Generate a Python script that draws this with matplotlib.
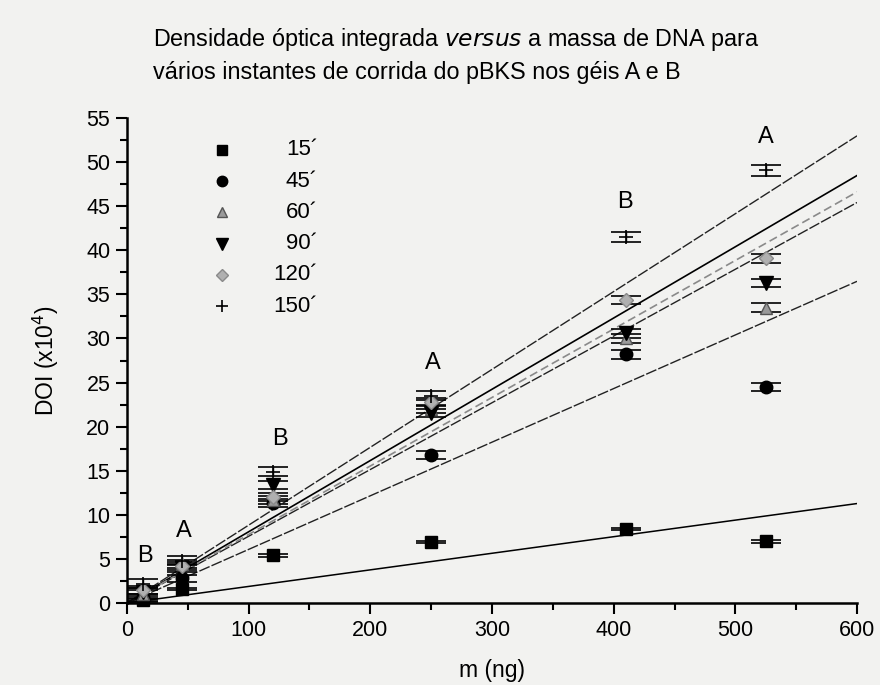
import matplotlib
matplotlib.use("Agg")
import matplotlib.pyplot as plt
import numpy as np
from matplotlib.ticker import MultipleLocator

plt.rcParams['font.family'] = ['Liberation Sans', 'DejaVu Sans']

# DNA mass loaded (ng)
mass = [13, 45, 120, 250, 410, 525]

# Integrated optical density (x10^4) for each run time
series_labels = ["15´", "45´", "60´", "90´", "120´", "150´"]
doi_15 = [0.3, 1.6, 5.4, 6.9, 8.4, 7.0]
doi_45 = [0.6, 2.8, 11.3, 16.8, 28.2, 24.5]
doi_60 = [1.0, 4.4, 11.7, 22.0, 30.0, 33.5]
doi_90 = [1.2, 4.0, 13.4, 21.6, 30.6, 36.3]
doi_120 = [1.5, 4.2, 12.0, 22.8, 34.4, 39.1]
doi_150 = [2.2, 4.8, 14.9, 23.5, 41.5, 49.1]

# Error of each measurement
err_15 = [0.15, 0.15, 0.15, 0.15, 0.15, 0.15]
err_45 = [0.4, 0.4, 0.45, 0.45, 0.5, 0.42]
err_60 = [0.45, 0.45, 0.45, 0.45, 0.5, 0.5]
err_90 = [0.45, 0.45, 0.45, 0.45, 0.5, 0.5]
err_120 = [0.45, 0.45, 0.45, 0.45, 0.47, 0.5]
err_150 = [0.5, 0.5, 0.5, 0.5, 0.53, 0.62]

# Linear fits (slope per ng, intercept)
fit_slopes = [0.0188, 0.0608, 0.0757, 0.0808, 0.0777, 0.0883]
fit_intercepts = [0.0, 0.0, 0.0, 0.0, 0.0, 0.0]

# Gel labels above each mass group
gel_labels = ["B", "A", "B", "A", "B", "A"]
gel_label_x = [15, 47, 126, 251, 409, 525]
gel_label_y = [5.3, 8.2, 18.6, 27.2, 45.5, 52.8]

all_doi = [doi_15, doi_45, doi_60, doi_90, doi_120, doi_150]
all_err = [err_15, err_45, err_60, err_90, err_120, err_150]

marker_styles = [
    dict(marker='s', ms=9, mfc='black', mec='black'),
    dict(marker='o', ms=9, mfc='black', mec='black'),
    dict(marker='^', ms=9, mfc='#9a9a9a', mec='#555555'),
    dict(marker='v', ms=9.5, mfc='black', mec='black'),
    dict(marker='D', ms=7, mfc='#b0b0b0', mec='#8a8a8a'),
    dict(marker='+', ms=10, mfc='black', mec='black', mew=1.2),
]
legend_ms = [7, 7.5, 7, 8, 6, 8]

line_styles = [
    dict(color='black', ls='-', lw=1.1),
    dict(color='#222222', ls=(0, (8, 1.5)), lw=1.0),
    dict(color='#222222', ls=(0, (8, 1.5)), lw=1.0),
    dict(color='black', ls='-', lw=1.2),
    dict(color='#8a8a8a', ls=(0, (5, 2.5)), lw=1.2),
    dict(color='#222222', ls=(0, (8, 1.5)), lw=1.0),
]

bg = '#f2f2f0'
fig = plt.figure(figsize=(8.8, 6.85), dpi=100, facecolor=bg)
ax = fig.add_axes([0.1443, 0.1197, 0.8296, 0.708], facecolor=bg)

xfit = np.array([0, 600])
for k in range(len(all_doi)):
    ax.plot(xfit, fit_slopes[k] * xfit + fit_intercepts[k], zorder=2, **line_styles[k])

for k in range(len(all_doi)):
    ax.errorbar(mass, all_doi[k], yerr=all_err[k], fmt='none', ecolor='black',
                elinewidth=1.0, capsize=11, capthick=1.2, zorder=3, clip_on=False)
    ax.plot(mass, all_doi[k], ls='none', zorder=4, clip_on=False, **marker_styles[k])

for lab, gx, gy in zip(gel_labels, gel_label_x, gel_label_y):
    ax.text(gx, gy, lab, ha='center', va='center', fontsize=17)

# Legend drawn as marker + right-aligned label rows
leg_y0 = 51.4
leg_dy = 3.55
for k, lab in enumerate(series_labels):
    y = leg_y0 - k * leg_dy
    st = dict(marker_styles[k])
    st['ms'] = legend_ms[k]
    ax.plot([78], [y], ls='none', clip_on=False, **st)
    ax.text(157, y, lab, ha='right', va='center', fontsize=16)

ax.set_xlim(0, 600)
ax.set_ylim(0, 55)
ax.xaxis.set_major_locator(MultipleLocator(100))
ax.xaxis.set_minor_locator(MultipleLocator(50))
ax.yaxis.set_major_locator(MultipleLocator(5))
ax.yaxis.set_minor_locator(MultipleLocator(2.5))
for s in ['top', 'right']:
    ax.spines[s].set_visible(False)
for s in ['left', 'bottom']:
    ax.spines[s].set_linewidth(1.8)
ax.tick_params(which='major', length=8, width=1.5, labelsize=15.5, direction='out', pad=4)
ax.tick_params(which='minor', length=5, width=1.5, direction='out')

ax.set_xlabel('m (ng)', fontsize=16.5, labelpad=13)
ax.set_ylabel('DOI (x10$^4$)', fontsize=16.5, labelpad=18)

fig.text(0.174, 0.942, 'Densidade óptica integrada $\\mathit{versus}$ a massa de DNA para',
         fontsize=16.8, ha='left', va='center')
fig.text(0.174, 0.894, 'vários instantes de corrida do pBKS nos géis A e B',
         fontsize=16.8, ha='left', va='center')

fig.savefig('out.png', dpi=100, facecolor=bg)
